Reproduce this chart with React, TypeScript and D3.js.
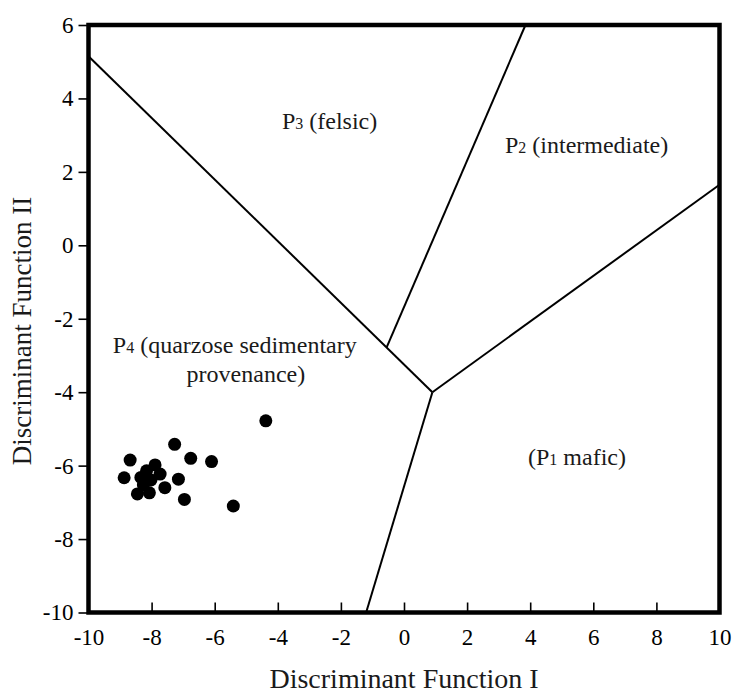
import React, {useEffect, useRef} from 'react';
import * as d3 from 'd3';

// sample scores (Discriminant Function I, II)
const scoreX = [-4.38, -7.27, -8.68, -6.76, -6.10, -7.89, -8.16, -7.73, -8.87, -8.34, -8.02, -7.15, -8.26, -7.58, -8.07, -8.45, -6.96, -5.41];
const scoreY = [-4.78, -5.42, -5.85, -5.80, -5.89, -5.98, -6.14, -6.23, -6.33, -6.32, -6.39, -6.37, -6.53, -6.60, -6.74, -6.77, -6.92, -7.10];

// field boundaries as [x1, y1, x2, y2]
const boundaries = [
  [-10, 5.15, 0.9, -4.0],
  [-0.55, -2.78, 3.85, 6],
  [0.9, -4.0, 10, 1.65],
  [0.9, -4.0, -1.2, -10],
];

const xTicks = [-10, -8, -6, -4, -2, 0, 2, 4, 6, 8, 10];
const yTicks = [6, 4, 2, 0, -2, -4, -6, -8, -10];

// field labels: [main, small digit, rest, x, y]
const fieldLabels: [string, string, string, number, number][] = [
  ['P', '3', ' (felsic)', -3.87, 3.17],
  ['P', '2', ' (intermediate)', 3.2, 2.51],
  ['P', '4', ' (quarzose sedimentary', -9.23, -2.93],
  ['', '', 'provenance)', -6.89, -3.71],
  ['(P', '1', ' mafic)', 3.93, -5.98],
];

function App() {
  const chartRef = useRef<SVGSVGElement>(null);

  const width = 732;
  const height = 693;
  const plot = {left: 88.5, right: 719.5, top: 25, bottom: 612.5};
  const font = '"Liberation Serif", "Times New Roman", serif';

  const xScale = d3.scaleLinear().domain([-10, 10]).range([plot.left, plot.right]);
  const yScale = d3.scaleLinear().domain([-10, 6]).range([plot.bottom, plot.top]);

  useEffect(() => {
    const svg = d3.select(chartRef.current);
    svg.selectAll('*').remove();

    // boundaries
    svg.append('g')
      .selectAll('line')
      .data(boundaries)
      .enter()
      .append('line')
      .attr('x1', d => xScale(d[0]))
      .attr('y1', d => yScale(d[1]))
      .attr('x2', d => xScale(d[2]))
      .attr('y2', d => yScale(d[3]))
      .attr('stroke', '#000')
      .attr('stroke-width', 2);

    // x axis, ticks pointing inward
    const xAxis = svg.append('g')
      .attr('transform', `translate(0, ${plot.bottom})`)
      .call(d3.axisBottom(xScale).tickValues(xTicks).tickSizeInner(-10).tickSizeOuter(0).tickPadding(16).tickFormat((d: any) => String(d)));
    xAxis.select('.domain').remove();
    xAxis.selectAll('.tick line').attr('stroke-width', 1.6);
    xAxis.selectAll('.tick text')
      .attr('font-family', font)
      .attr('font-size', 23)
      .attr('fill', '#000');

    // y axis, ticks pointing outward
    const yAxis = svg.append('g')
      .attr('transform', `translate(${plot.left}, 0)`)
      .call(d3.axisLeft(yScale).tickValues(yTicks).tickSizeInner(10).tickSizeOuter(0).tickPadding(5).tickFormat((d: any) => String(d)));
    yAxis.select('.domain').remove();
    yAxis.selectAll('.tick line').attr('stroke-width', 1.6);
    yAxis.selectAll('.tick text')
      .attr('font-family', font)
      .attr('font-size', 23)
      .attr('fill', '#000');

    // frame
    svg.append('rect')
      .attr('x', plot.left)
      .attr('y', plot.top)
      .attr('width', plot.right - plot.left)
      .attr('height', plot.bottom - plot.top)
      .attr('fill', 'none')
      .attr('stroke', '#000')
      .attr('stroke-width', 4.5);

    // samples
    svg.append('g')
      .selectAll('circle')
      .data(scoreX.map((x, i) => [x, scoreY[i]]))
      .enter()
      .append('circle')
      .attr('cx', d => xScale(d[0]))
      .attr('cy', d => yScale(d[1]))
      .attr('r', 6.5)
      .attr('fill', '#000');

    // field labels
    const labels = svg.append('g')
      .selectAll('text')
      .data(fieldLabels)
      .enter()
      .append('text')
      .attr('x', d => xScale(d[3]))
      .attr('y', d => yScale(d[4]))
      .attr('font-family', font)
      .attr('font-size', 24)
      .attr('fill', '#1a1a1a');
    labels.append('tspan').text(d => d[0]);
    labels.append('tspan').attr('font-size', 16).text(d => d[1]);
    labels.append('tspan').text(d => d[2]);

    // axis titles
    svg.append('text')
      .attr('x', (plot.left + plot.right) / 2)
      .attr('y', 688)
      .attr('text-anchor', 'middle')
      .attr('font-family', font)
      .attr('font-size', 28)
      .attr('fill', '#1a1a1a')
      .text('Discriminant Function I');

    svg.append('text')
      .attr('transform', `translate(31, 331) rotate(-90)`)
      .attr('text-anchor', 'middle')
      .attr('font-family', font)
      .attr('font-size', 27)
      .attr('fill', '#1a1a1a')
      .text('Discriminant Function II');
  });

  return (
    <svg ref={chartRef} width={width} height={height}
      style={{position: 'absolute', left: 0, top: 0, background: '#fff'}}/>
  );
}

export default App;
